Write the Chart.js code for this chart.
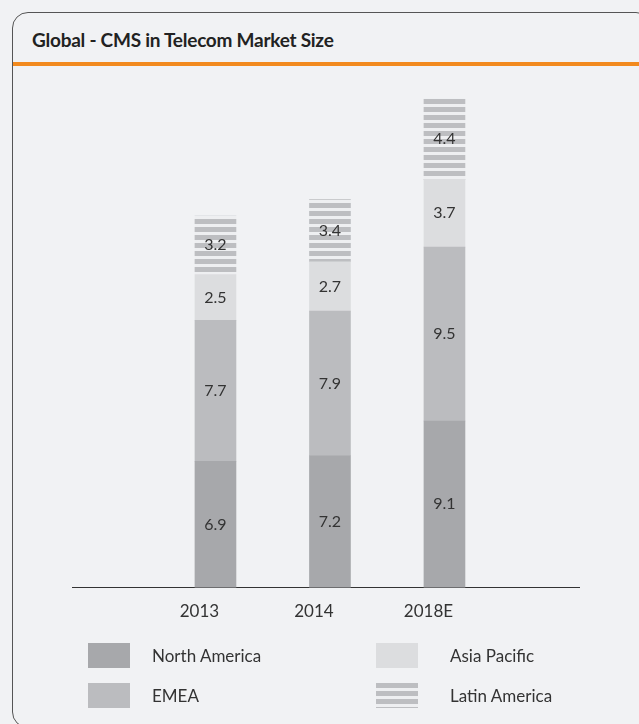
<!DOCTYPE html>
<html>
<head>
<meta charset="utf-8">
<script src="https://cdn.jsdelivr.net/npm/chart.js@4.4.1/dist/chart.umd.min.js"></script>
<style>
    body { margin: 0; background: #f1f2f4; font-family: Lato, "Noto Sans", sans-serif; }
    #page { position: relative; width: 639px; height: 724px; overflow: hidden; }
    #card { position: absolute; left: 12px; top: 12px; width: 640px; height: 716px;
            border: 1.5px solid #555; border-radius: 16px; box-sizing: border-box; }
    #title { position: absolute; left: 32px; top: 28px; font-size: 19px; font-weight: bold; color: #222;
             letter-spacing: -0.25px; }
    #rule { position: absolute; left: 13px; top: 62px; width: 626px; height: 4px; background: #f28a1e; }
    #wrap { position: absolute; left: 0; top: 75px; width: 639px; height: 560px; }
    #legend { position: absolute; left: 88px; top: 643px; display: grid;
              grid-auto-flow: column; grid-template-rows: 25px 25px; grid-template-columns: 288px 200px;
              row-gap: 15px; }
    .item { display: flex; align-items: center; font-size: 17px; color: #333; }
    .item canvas { margin-right: 22px; }
    .item.c2 canvas { margin-right: 32px; }
</style>
</head>
<body>
<div id="page">
    <div id="card"></div>
    <div id="title">Global - CMS in Telecom Market Size</div>
    <div id="rule"></div>
    <div id="wrap"><canvas id="chart"></canvas></div>
    <div id="legend"></div>
</div>

<script>
// DATA
const years = ["2013", "2014", "2018E"];
const northAmerica = [6.9, 7.2, 9.1];
const emea = [7.7, 7.9, 9.5];
const asiaPacific = [2.5, 2.7, 3.7];
const latinAmerica = [3.2, 3.4, 4.4];

// striped fill for Latin America
function stripes() {
    let c = document.createElement("canvas");
    c.width = 8; c.height = 8;
    let g = c.getContext("2d");
    g.fillStyle = "#eeeff1";
    g.fillRect(0, 0, 8, 8);
    g.fillStyle = "#bdbec1";
    g.fillRect(0, 0, 8, 5);
    return g.createPattern(c, "repeat");
}

const toPoints = arr => arr.map((v, i) => ({ x: i, y: v }));

const series = [
    { label: "North America", data: northAmerica, color: "#a7a8ab" },
    { label: "EMEA", data: emea, color: "#bbbcbf" },
    { label: "Asia Pacific", data: asiaPacific, color: "#dcdddf" },
    { label: "Latin America", data: latinAmerica, color: stripes() }
];

// VALUE LABELS
const valueLabels = {
    id: "valueLabels",
    afterDatasetsDraw(chart) {
        const ctx = chart.ctx;
        ctx.save();
        ctx.font = "16px Lato";
        ctx.fillStyle = "#333";
        ctx.textAlign = "center";
        ctx.textBaseline = "middle";
        chart.data.datasets.forEach((ds, i) => {
            chart.getDatasetMeta(i).data.forEach((bar, j) => {
                ctx.fillText(ds.data[j].y.toFixed(1), bar.x, (bar.y + bar.base) / 2);
            });
        });
        ctx.restore();
    }
};

const chart = new Chart(document.getElementById("chart"), {
    type: "bar",
    data: {
        datasets: series.map(s => ({
            label: s.label,
            data: toPoints(s.data),
            backgroundColor: s.color,
            borderWidth: 0,
            barThickness: 41
        }))
    },
    options: {
        responsive: true,
        maintainAspectRatio: false,
        animation: false,
        layout: { padding: { left: 72, right: 60, top: 0, bottom: 7 } },
        plugins: { legend: { display: false }, tooltip: { enabled: false } },
        scales: {
            x: {
                type: "linear",
                stacked: true,
                offset: false,
                min: -1.253,
                max: 3.175,
                grid: { display: false },
                border: { display: true, color: "#333", width: 1 },
                afterBuildTicks: axis => { axis.ticks = years.map((_, i) => ({ value: i })); },
                ticks: {
                    padding: 6,
                    labelOffset: -16,
                    color: "#333",
                    font: { family: "Lato", size: 17 },
                    callback: v => years[v]
                }
            },
            y: {
                stacked: true,
                display: false,
                min: 0,
                max: 28
            }
        }
    },
    plugins: [valueLabels]
});

// LEGEND
const legend = document.getElementById("legend");
chart.data.datasets.forEach((ds, i) => {
    let item = document.createElement("div");
    item.className = "item" + (i >= 2 ? " c2" : "");
    let sw = document.createElement("canvas");
    sw.width = 42; sw.height = 25;
    let g = sw.getContext("2d");
    g.fillStyle = ds.backgroundColor;
    g.fillRect(0, 0, 42, 25);
    item.appendChild(sw);
    let txt = document.createElement("span");
    txt.innerText = ds.label;
    item.appendChild(txt);
    legend.appendChild(item);
});
</script>
</body>
</html>
